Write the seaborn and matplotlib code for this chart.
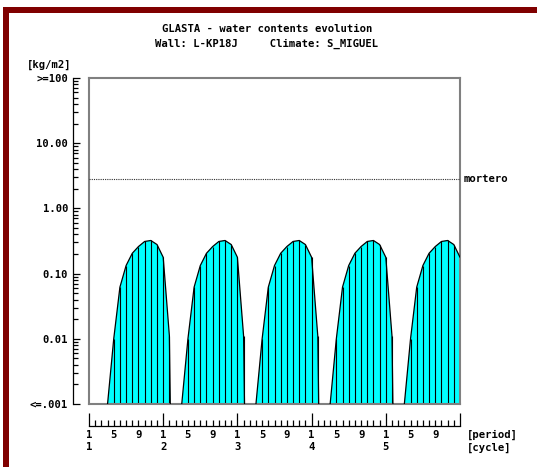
import numpy as np
import matplotlib
matplotlib.use("Agg")
import matplotlib.pyplot as plt
import seaborn as sns
from matplotlib.patches import Rectangle
from matplotlib.ticker import LogLocator, NullFormatter

# ---------------- data ----------------
period_index = list(range(61))  # periods along 5 cycles (12 periods each)
# water content [kg/m2] at each period boundary; 0 = below 0.001
water_content = [
    0, 0, 0, 0.001, 0.010, 0.062, 0.133, 0.205, 0.260, 0.311, 0.322, 0.279,
    0.178, 0.0111, 0, 0.001, 0.010, 0.062, 0.133, 0.205, 0.260, 0.311, 0.322, 0.279,
    0.178, 0.0111, 0, 0.001, 0.010, 0.062, 0.133, 0.205, 0.260, 0.311, 0.322, 0.279,
    0.178, 0.0111, 0, 0.001, 0.010, 0.062, 0.133, 0.205, 0.260, 0.311, 0.322, 0.279,
    0.178, 0.0111, 0, 0.001, 0.010, 0.062, 0.133, 0.205, 0.260, 0.311, 0.322, 0.279,
    0.178,
]
mortero_level = 2.79
mortero_label = "mortero"

y_tick_values = [0.001, 0.01, 0.1, 1, 10, 100]
y_tick_labels = ["<=.001", "0.01", "0.10", "1.00", "10.00", ">=100"]

cycle_start_periods = [0, 12, 24, 36, 48, 60]
cycle_labels = ["1\n1", "1\n2", "1\n3", "1\n4", "1\n5", ""]
inner_periods = [k for k in range(61) if k % 12 != 0]
inner_period_labels = [("5" if k % 12 == 4 else "9" if k % 12 == 8 else "") for k in inner_periods]

title_line1 = "GLASTA - water contents evolution"
title_line2 = "Wall: L-KP18J     Climate: S_MIGUEL"
unit_label = "[kg/m2]"

# ---------------- style ----------------
sns.set_style("white")
plt.rcParams["font.family"] = ["DejaVu Sans Mono"]
plt.rcParams["font.weight"] = "bold"
plt.rcParams["text.color"] = "black"
plt.rcParams["xtick.color"] = "black"
plt.rcParams["ytick.color"] = "black"
plt.rcParams["xtick.labelcolor"] = "black"
plt.rcParams["ytick.labelcolor"] = "black"
FS = 7.6

W, H = 537, 467
fig = plt.figure(figsize=(W / 100, H / 100), dpi=100)
fig.patch.set_facecolor("white")


def box(x0, y0, x1, y1):
    return [x0 / W, 1 - y1 / H, (x1 - x0) / W, (y1 - y0) / H]


# dark red border (top and left)
fig.add_artist(Rectangle((3 / W, 1 - 13 / H), 1 - 3 / W, 6 / H,
                         transform=fig.transFigure, color="#800000", lw=0))
fig.add_artist(Rectangle((3 / W, 0), 6 / W, 1 - 7 / H,
                         transform=fig.transFigure, color="#800000", lw=0))

# ---------------- main plot ----------------
ax = fig.add_axes(box(89, 78, 460, 404))
x = np.array(period_index, dtype=float)
w = np.array(water_content, dtype=float)
floor = 1e-9
w_plot = np.where(w > 0, w, floor)

ax.set_yscale("log")
ax.fill_between(x, floor, w_plot, color="#00FFFF", lw=0, zorder=1)
mask = w_plot > 0.001
ax.vlines(x[mask], 0.001, w_plot[mask], color="black", lw=0.8, zorder=2)
sns.lineplot(x=x, y=w_plot, ax=ax, color="black", lw=0.9, zorder=3)
ax.axhline(mortero_level, color="#303030", lw=0.8, ls=(0, (1, 1)), zorder=4)

ax.set_xlim(0, 60)
ax.set_ylim(0.001, 100)
ax.set_xlabel("")
ax.set_ylabel("")
ax.tick_params(which="both", left=False, bottom=False, labelleft=False, labelbottom=False)
for s in ax.spines.values():
    s.set_visible(True)
    s.set_color("#808080")
    s.set_linewidth(1.5)

ax.text(1.0 + 4 / 371, mortero_level, mortero_label, transform=ax.get_yaxis_transform(),
        ha="left", va="center", fontsize=FS, color="black")

# ---------------- y tick axis ----------------
axy = fig.add_axes(box(73, 78, 74, 404))
axy.patch.set_visible(False)
axy.set_yscale("log")
axy.set_ylim(0.001, 100)
for name, s in axy.spines.items():
    s.set_visible(name == "left")
axy.spines["left"].set_color("black")
axy.spines["left"].set_linewidth(0.9)
axy.set_xticks([])
axy.set_yticks(y_tick_values, y_tick_labels)
axy.yaxis.set_minor_locator(LogLocator(base=10, subs=np.arange(2, 10)))
axy.yaxis.set_minor_formatter(NullFormatter())
axy.tick_params(axis="y", which="major", left=True, direction="in", length=5.3, width=0.9,
                pad=3.5, labelsize=FS, color="black", labelcolor="black")
axy.tick_params(axis="y", which="minor", left=True, direction="in", length=3.4, width=0.9,
                color="black")

# ---------------- x tick axis ----------------
axx = fig.add_axes(box(89, 425, 460, 426))
axx.patch.set_visible(False)
axx.set_xlim(0, 60)
for name, s in axx.spines.items():
    s.set_visible(name == "bottom")
axx.spines["bottom"].set_color("black")
axx.spines["bottom"].set_linewidth(0.9)
axx.set_yticks([])
axx.set_xticks(cycle_start_periods, cycle_labels)
axx.set_xticks(inner_periods, inner_period_labels, minor=True)
axx.tick_params(axis="x", which="major", bottom=True, direction="in", length=9.5, width=0.9,
                pad=3, labelsize=FS, color="black", labelcolor="black")
axx.tick_params(axis="x", which="minor", bottom=True, direction="in", length=4.4, width=0.9,
                pad=3, labelsize=FS, color="black", labelcolor="black")
for lbl in axx.get_xticklabels():
    lbl.set_linespacing(1.25)

fig.text(467 / W, 1 - 435 / H, "[period]", ha="left", va="center", fontsize=FS)
fig.text(467 / W, 1 - 448 / H, "[cycle]", ha="left", va="center", fontsize=FS)

# ---------------- titles ----------------
fig.text(267.5 / W, 1 - 29 / H, title_line1, ha="center", va="center", fontsize=FS)
fig.text(267 / W, 1 - 43.5 / H, title_line2, ha="center", va="center", fontsize=FS)
fig.text(27 / W, 1 - 65 / H, unit_label, ha="left", va="center", fontsize=FS)

fig.savefig("out.png", dpi=100, facecolor="white")
